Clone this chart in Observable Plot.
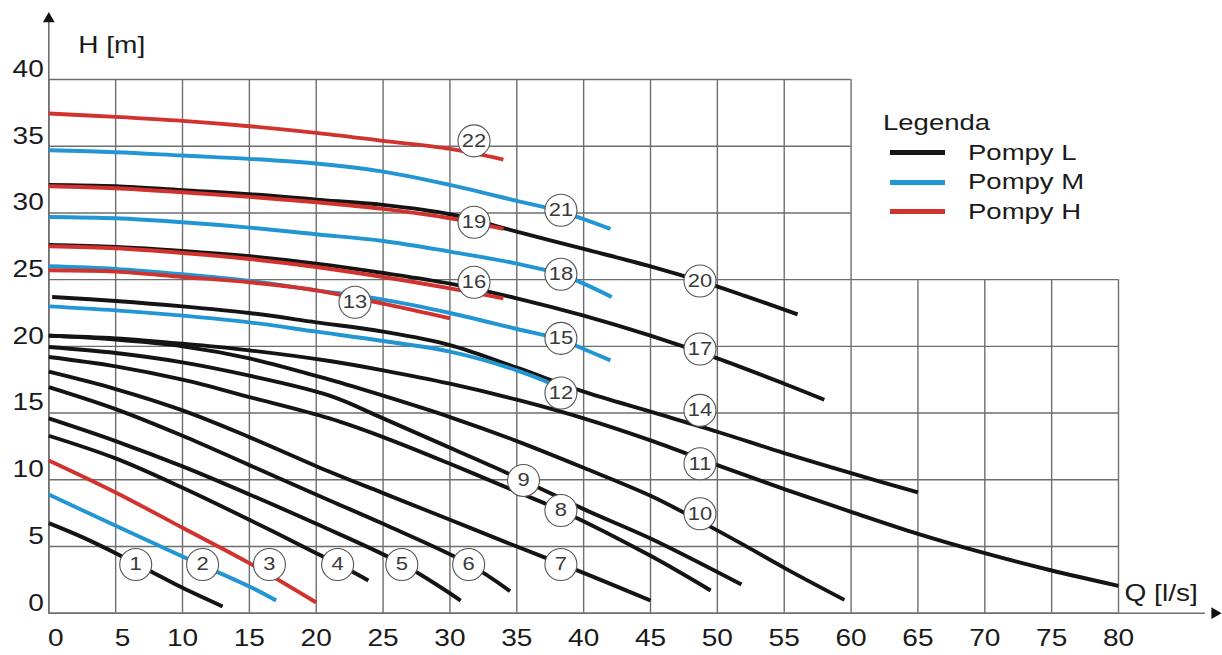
<!DOCTYPE html>
<html>
<head>
<meta charset="utf-8">
<script src="https://cdn.jsdelivr.net/npm/d3@7"></script>
<script src="https://cdn.jsdelivr.net/npm/@observablehq/plot@0.6"></script>
<style>
  html, body { margin: 0; padding: 0; background: #fff; }
  #wrap { position: relative; width: 1222px; height: 655px; font-family: "Liberation Sans", Arial, sans-serif; }
  #legend { position: absolute; left: 883px; top: 108px; color: #1a1a1a; font-size: 22px; }
  #legend .title { height: 30px; line-height: 30px; display: inline-block; transform: scaleX(1.25); transform-origin: left center; }
  #legend .row { height: 29.5px; display: flex; align-items: center; }
  #legend .sw { width: 55px; height: 5px; margin-left: 7px; margin-right: 23px; flex: none; }
  #legend .lab { display: inline-block; white-space: nowrap; transform: scaleX(1.25); transform-origin: left center; }
</style>
</head>
<body>
<div id="wrap"></div>
<script>
// ---- data ----
const xTicks = [0, 5, 10, 15, 20, 25, 30, 35, 40, 45, 50, 55, 60, 65, 70, 75, 80];
const yTicks = [0, 5, 10, 15, 20, 25, 30, 35, 40];

const curveIds   = ["1","2","3","4","5","6","7","8","9","10","11","12","13","14","15","16","17","18","19","20","21","22"];
const curveTypes = ["L","M","H","L","L","L","L","L","L","L","L","M","H","L","M","H","L","M","H","L","M","H"];

const c1  = [[0,6.75],[2.5,5.7],[5,4.5],[7.5,3.2],[10,1.9],[13,0.5]];
const c2  = [[0,8.9],[5,6.55],[10,4.25],[15,2.0],[17,0.95]];
const c3  = [[0,11.45],[5,9.05],[10,6.4],[15,3.75],[20,0.8]];
const c4  = [[0,13.3],[5,11.6],[10,9.4],[15,7.0],[20,4.5],[21.6,3.7],[23.9,2.45]];
const c5  = [[0,14.6],[5,12.9],[10,11.0],[15,8.9],[20,6.7],[26.4,3.7],[30.8,0.95]];
const c6  = [[0,16.95],[5,15.3],[10,13.3],[15,11.1],[21,8.45],[25,6.7],[31.4,3.7],[34.5,1.65]];
const c7  = [[0,18.1],[5,16.8],[10,15.2],[15,13.2],[21,10.6],[25,9.0],[30,7.0],[35,5.0],[38.3,3.7],[42,2.2],[45,0.95]];
const c8  = [[0,19.2],[5,18.5],[10,17.5],[15,16.2],[21,14.6],[25,13.2],[30,11.2],[35,9.1],[38.3,7.7],[45,4.3],[49.5,1.7]];
const c9  = [[0,19.95],[5,19.5],[10,18.8],[15,17.8],[21,16.3],[25,14.6],[30,12.4],[35.5,9.95],[40,7.8],[45,5.6],[51.8,2.15]];
const c10 = [[0,20.8],[5,20.5],[10,20.0],[15,19.1],[21,17.5],[25,16.3],[30,14.7],[35,12.9],[40,10.9],[45,8.8],[48.7,6.9],[52,5.1],[55,3.4],[59.5,1.0]];
const c11 = [[0,20.8],[5,20.6],[10,20.2],[15,19.7],[21,18.9],[25,18.2],[30,17.2],[35,16.0],[40,14.6],[45,12.95],[50,11.1],[55,9.3],[60,7.6],[65,5.95],[70,4.5],[75,3.2],[80,2.05]];
const c12 = [[0,23.0],[5,22.7],[10,22.3],[15,21.8],[20,21.1],[25,20.4],[30,19.6],[35,18.2],[39.5,16.4]];
const c13 = [[0,25.7],[5,25.6],[10,25.2],[15,24.8],[20,24.2],[25,23.2],[30,22.1]];
const c14 = [[0.25,23.7],[5,23.4],[10,23.0],[15,22.5],[20,21.8],[25,21.1],[30,20.1],[35,18.4],[40,16.6],[45,15.1],[50,13.6],[55,12.0],[60,10.5],[65,9.05]];
const c15 = [[0,26.0],[5,25.8],[10,25.4],[15,24.9],[20,24.2],[25,23.5],[30,22.5],[35,21.3],[38.3,20.5],[40,19.8],[42,18.95]];
const c16 = [[0,27.5],[5,27.35],[10,27.0],[15,26.55],[20,25.95],[25,25.2],[30,24.35],[34,23.6]];
const c17 = [[0,27.6],[5,27.45],[10,27.15],[15,26.75],[20,26.2],[25,25.5],[30,24.7],[35,23.6],[40,22.3],[45,20.8],[50,19.1],[55,17.2],[58,16.0]];
const c18 = [[0,29.7],[5,29.6],[10,29.3],[15,28.9],[20,28.4],[25,27.9],[30,27.1],[35,26.2],[38.3,25.4],[40,24.7],[42.1,23.7]];
const c19 = [[0,32.0],[5,31.85],[10,31.55],[15,31.2],[20,30.8],[25,30.3],[30,29.6],[34,28.8]];
const c20 = [[0,32.1],[5,32.0],[10,31.7],[15,31.4],[20,31.0],[25,30.6],[30,29.9],[35,28.6],[40,27.3],[45,26.0],[48.7,24.9],[52,23.8],[56,22.4]];
const c21 = [[0,34.7],[5,34.55],[10,34.3],[15,34.05],[20,33.7],[25,33.1],[30,32.1],[35,30.9],[38.3,30.1],[42,28.8]];
const c22 = [[0,37.45],[5,37.2],[10,36.9],[15,36.5],[20,36.0],[25,35.4],[30,34.8],[34,34.0]];

// label circles (number, Q, H)
const labelIds = ["1","2","3","4","5","6","7","8","9","10","11","12","13","14","15","16","17","18","19","20","21","22"];
const labelQ   = [6.5,11.5,16.5,21.6,26.4,31.4,38.3,38.3,35.5,48.7,48.7,38.3,22.9,48.7,38.3,31.8,48.7,38.3,31.8,48.7,38.3,31.8];
const labelH   = [3.65,3.65,3.65,3.65,3.65,3.65,3.65,7.7,9.95,7.45,11.2,16.5,23.3,15.2,20.6,24.8,19.8,25.4,29.3,24.9,30.2,35.4];

const legendTypes  = ["L","M","H"];
const legendLabels = ["Pompy L","Pompy M","Pompy H"];

// ---- build tables ----
const curveData = [c1,c2,c3,c4,c5,c6,c7,c8,c9,c10,c11,c12,c13,c14,c15,c16,c17,c18,c19,c20,c21,c22];
const rows = curveData.flatMap((pts, i) => pts.map(([q, h]) => ({id: curveIds[i], type: curveTypes[i], q, h})));
const labels = labelIds.map((t, i) => ({t, q: labelQ[i], h: labelH[i]}));
const colors = {L: "#141414", M: "#2196d3", H: "#d2322d"};
const gridColor = "#6e6e6e";
const font = "'Liberation Sans', Arial, sans-serif";

const lineOpts = (type) => ({
  filter: d => d.type === type, x: "q", y: "h", z: "id",
  stroke: colors[type], strokeWidth: 3.9, curve: "catmull-rom", strokeLinecap: "butt"
});

const chart = Plot.plot({
  width: 1222,
  height: 655,
  x: {domain: [0, 80], range: [48.3, 1118], axis: null},
  y: {domain: [0, 40], range: [612.7, 79], axis: null},
  style: {fontFamily: font, background: "white"},
  marks: [
    // grid (upper block stops at 60, right block stops at 25)
    Plot.ruleY(yTicks, {x1: () => 0, x2: d => d <= 25 ? 80 : 60, stroke: gridColor, strokeWidth: 1.4}),
    Plot.ruleX(xTicks, {y1: () => 0, y2: d => d <= 60 ? 40 : 25, stroke: gridColor, strokeWidth: 1.4}),
    // axes with arrows
    Plot.ruleY([0], {x1: () => 0, x2: () => 86.5, stroke: gridColor, strokeWidth: 1.6}),
    Plot.ruleX([0], {y1: () => 0, y2: () => 44.3, stroke: gridColor, strokeWidth: 1.6}),
    Plot.dot([0], {x: () => 0, y: () => 44.55, symbol: "triangle2", r: 5.6, fill: "#111", stroke: "none"}),
    Plot.dot([0], {x: () => 87.2, y: () => 0, symbol: "triangle2", r: 5.6, fill: "#111", stroke: "none", rotate: 90}),
    // curves
    Plot.line(rows, lineOpts("L")),
    Plot.line(rows, lineOpts("M")),
    Plot.line(rows, lineOpts("H")),
    // numbered circles
    Plot.dot(labels, {x: "q", y: "h", r: 16, fill: "white", stroke: "#555", strokeWidth: 1.1}),
    Plot.text(labels, {x: "q", y: "h", text: "t", fontSize: 18, fill: "#3a3a3a"}),
    // tick labels
    Plot.text(xTicks, {filter: d => d < 10, x: d => d, y: () => 0, text: d => String(d), dx: 7, dy: 25, fontSize: 23, fill: "#1a1a1a"}),
    Plot.text(xTicks, {filter: d => d >= 10, x: d => d, y: () => 0, text: d => String(d), dy: 25, fontSize: 23, fill: "#1a1a1a"}),
    Plot.text(yTicks, {x: () => 0, y: d => d, text: d => String(d), dx: -5, dy: -10, textAnchor: "end", fontSize: 23, fill: "#1a1a1a"}),
    // axis titles
    Plot.text(["H [m]"], {x: () => 2.2, y: () => 42.55, text: d => d, textAnchor: "start", fontSize: 23, fill: "#1a1a1a"}),
    Plot.text(["Q [l/s]"], {x: () => 80.45, y: () => 1.5, text: d => d, textAnchor: "start", fontSize: 23, fill: "#1a1a1a"})
  ]
});

// the reference lettering is horizontally wide: stretch each text run about its anchor
chart.querySelectorAll("text").forEach(t => {
  const tr = t.getAttribute("transform");
  if (tr) t.setAttribute("transform", tr + " scale(1.22,1)");
});

const wrap = document.getElementById("wrap");
wrap.appendChild(chart);

const legend = document.createElement("div");
legend.id = "legend";
legend.innerHTML = `<div><span class="title">Legenda</span></div>` +
  legendTypes.map((t, i) => `<div class="row"><span class="sw" style="background:${colors[t]}"></span><span class="lab">${legendLabels[i]}</span></div>`).join("");
wrap.appendChild(legend);
</script>
</body>
</html>
